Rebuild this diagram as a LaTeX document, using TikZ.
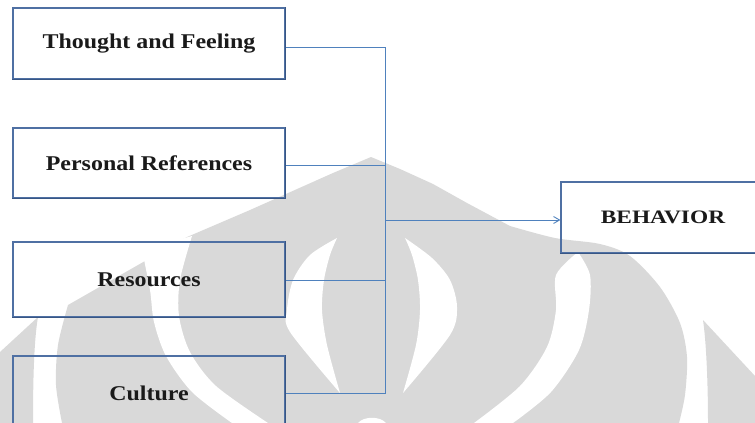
\documentclass[tikz,border=0pt]{standalone}
\usepackage{fontspec}
\usetikzlibrary{arrows.meta}
\newfontfamily\boxfont{Liberation Serif}[FakeStretch=1.14]
\newfontfamily\widefont{Liberation Serif}[FakeStretch=1.23]
\definecolor{logogray}{RGB}{217,217,217}
\definecolor{edgeblue}{RGB}{79,112,163}
\definecolor{edgedark}{RGB}{56,86,133}
\definecolor{wireblue}{RGB}{79,129,189}
\definecolor{ink}{RGB}{26,26,26}

\begin{document}
\begin{tikzpicture}[x=1pt,y=-1pt,
  factor/.style={draw=edgeblue, line width=1.2pt, minimum width=272pt,
    minimum height=71pt, inner sep=0pt, text=ink,
    font=\boxfont\bfseries\fontsize{21}{25}\selectfont},
  outcome/.style={factor, minimum width=204pt,
    font=\widefont\bfseries\fontsize{19}{23}\selectfont},
  darkedge/.style={draw=edgedark, line width=1.7pt},
  link/.style={draw=wireblue, line width=0.9pt},
  logo/.style={fill=logogray},
  gap/.style={fill=white}]

\useasboundingbox (0,0) rectangle (755,423);
\clip (0,0) rectangle (755,423);

% --- background emblem ---
% central arch
\fill[logo] plot[smooth] coordinates {(62,423) (56,385) (58,345) (68,305)}
  -- (187,237) -- (250,210) -- (333,173) -- (371,157) -- (400,169)
  -- (433,184) -- (467,203) -- (510,226)
  -- plot[smooth] coordinates {(510,226) (555,238) (600,244) (630,256)
     (660,287) (680,323) (687,357) (685,395) (679,423)} -- cycle;
% side wings
\fill[logo] (0,352) -- (38,317)
  .. controls (34,340) and (33,380) .. (33,423) -- (0,423) -- cycle;
\fill[logo] (703,320) -- (755,376) -- (755,423) -- (708,423)
  .. controls (708,380) and (706,340) .. (703,320) -- cycle;
% outer crescents
\fill[gap] plot[smooth] coordinates {(142,250) (150,290) (154,322) (166,356)
    (192,392) (232,423)}
  -- (268,423)
  -- plot[smooth] coordinates {(268,423) (216,386) (190,352) (179,316)
    (180,280) (192,236)} -- cycle;
\fill[gap] plot[smooth] coordinates {(578,252) (590,275) (589,310) (579,350)
    (551,392) (513,423)}
  -- (474,423)
  -- plot[smooth] coordinates {(474,423) (520,386) (547,347) (556,310)
    (556,275) (578,252)} -- cycle;
% inner crescents
\fill[gap] plot[smooth] coordinates {(337,238) (310,255) (293,280) (287,310)
    (290,332) (340,393)}
  -- plot[smooth] coordinates {(340,393) (327,345) (322,310) (324,280)
    (330,255) (337,238)} -- cycle;
\fill[gap] plot[smooth] coordinates {(405,238) (432,258) (450,280) (457,307)
    (450,335) (403,393)}
  -- plot[smooth] coordinates {(403,393) (416,345) (420,310) (418,280)
    (412,255) (405,238)} -- cycle;
\fill[gap] (358,423) .. controls (364,416) and (380,416) .. (386,423) -- cycle;

% --- factor boxes ---
\node[factor] (tf) at (149,43.5) {Thought and Feeling};
\node[factor, minimum height=70pt] (pr) at (149,163) {Personal References};
\node[factor, minimum height=75pt] (rs) at (149,279.5) {Resources};
\node[factor, minimum height=74pt] (cu) at (149,393) {Culture};
\node[outcome] (bh) at (663,217.5) {BEHAVIOR};

\foreach \b in {tf,pr,rs,cu,bh}
  \draw[darkedge] (\b.north east) -- (\b.south east) -- (\b.south west);

% --- connectors ---
\coordinate (bus) at (385.5,0);
\coordinate (tfout) at ([yshift=-3.5pt]tf.east);
\coordinate (prout) at ([yshift=-2.7pt]pr.east);
\coordinate (rsout) at ([yshift=-0.8pt]rs.east);
\coordinate (cuout) at ([yshift=-0.3pt]cu.east);
\coordinate (bhin) at ([yshift=-2.5pt]bh.west);

\foreach \c in {tfout,prout,rsout,cuout}
  \draw[link] (\c) -- (\c -| bus);
\draw[link] (tfout -| bus) -- (cuout -| bus);
\draw[link, -{Straight Barb[length=6pt,width=7pt]}] (bhin -| bus) -- (bhin);

\end{tikzpicture}
\end{document}
